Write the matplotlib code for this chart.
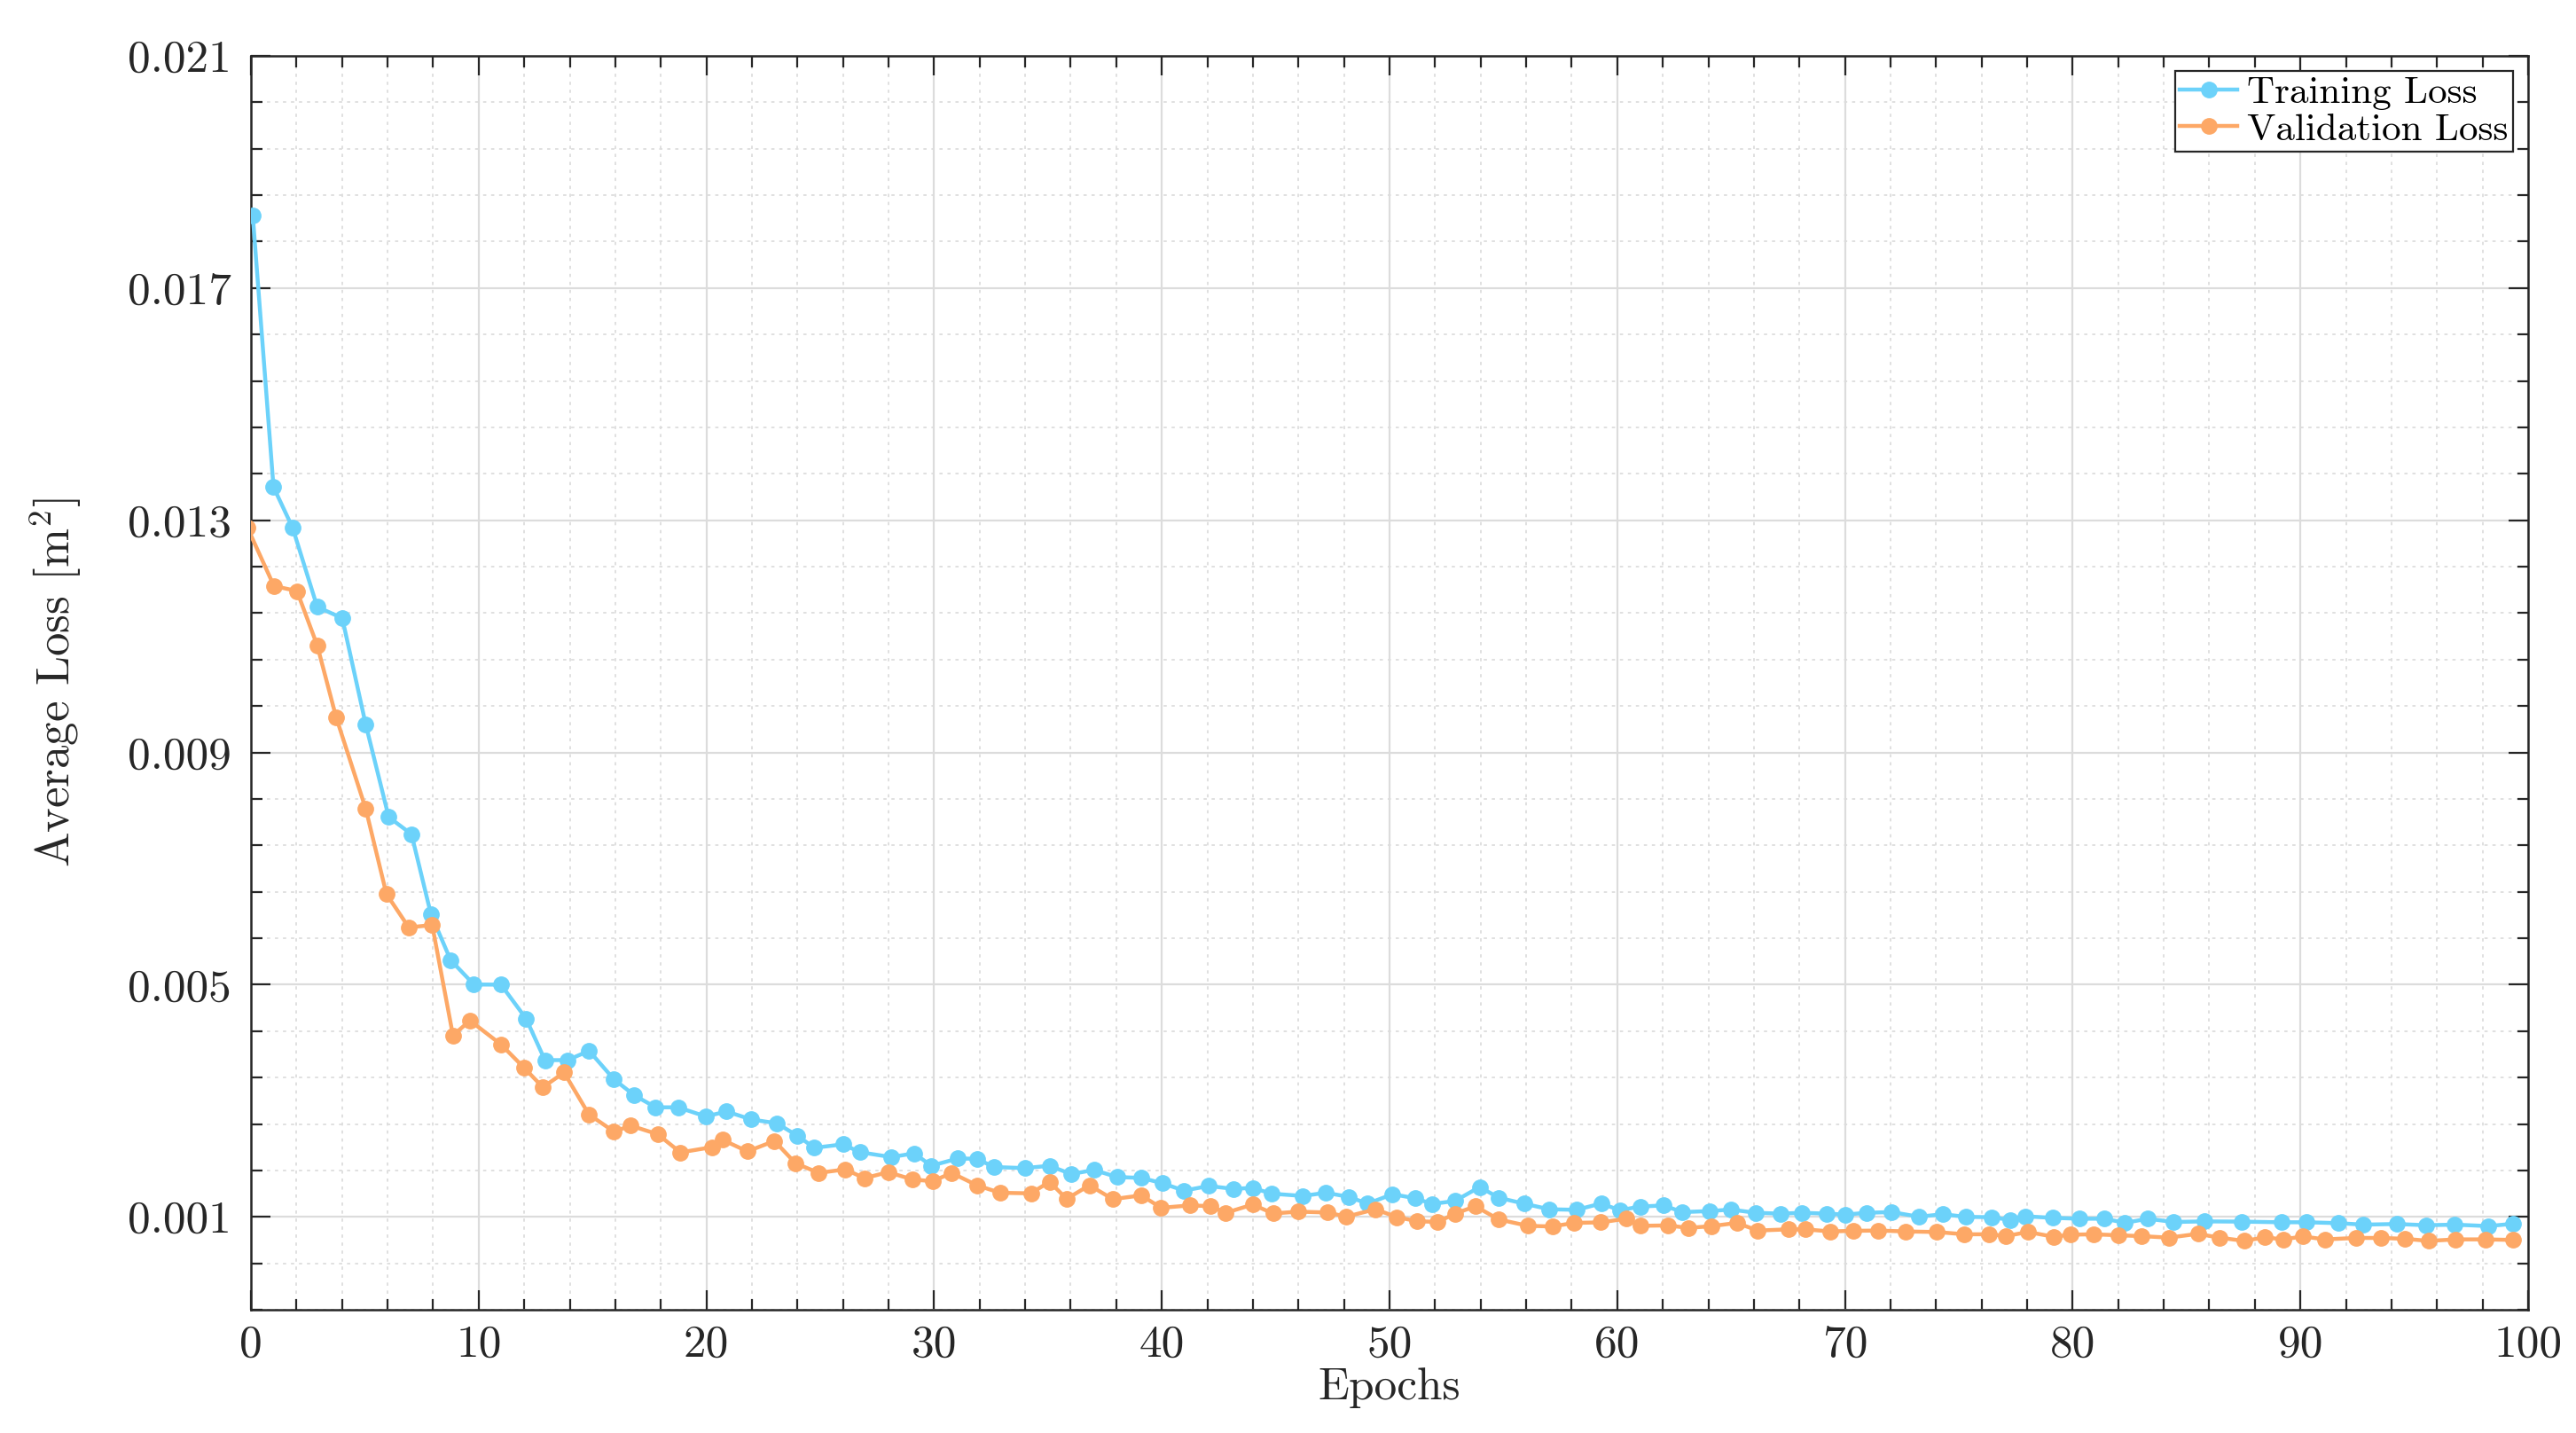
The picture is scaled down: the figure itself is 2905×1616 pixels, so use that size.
import matplotlib
matplotlib.use("Agg")
import matplotlib.pyplot as plt
from matplotlib.ticker import MultipleLocator, FixedLocator

plt.rcParams['font.family'] = 'cmr10'
plt.rcParams['mathtext.fontset'] = 'cm'
plt.rcParams['axes.unicode_minus'] = False

# training loss (x positions are not evenly spaced in the source)
train_x = [0.08, 0.99, 1.83, 2.91, 4.01, 5.04, 6.05, 7.05, 7.90, 8.77,
           9.79, 10.98, 12.08, 12.91, 13.90, 14.85, 15.94, 16.84, 17.77, 18.76,
           19.97, 20.89, 21.97, 23.09, 23.99, 24.74, 26.00, 26.75, 28.12, 29.13,
           29.87, 31.04, 31.88, 32.63, 33.98, 35.07, 36.02, 37.02, 38.03, 39.11,
           40.03, 40.97, 42.06, 43.15, 43.99, 44.81, 46.20, 47.20, 48.20, 49.04,
           50.13, 51.14, 51.87, 52.87, 53.96, 54.79, 55.90, 57.01, 58.21, 59.29,
           60.11, 61.01, 62.04, 62.86, 64.06, 64.99, 66.08, 67.18, 68.10, 69.20,
           70.03, 70.96, 72.04, 73.23, 74.30, 75.33, 76.44, 77.25, 77.91, 79.11,
           80.31, 81.40, 82.30, 83.30, 84.41, 85.80, 87.43, 89.16, 90.26, 91.65,
           92.76, 94.22, 95.52, 96.78, 98.25, 99.35]
train_loss = [0.018246, 0.013572, 0.012871, 0.011508, 0.011314, 0.009483, 0.007886, 0.007593, 0.006220, 0.005422,
              0.005003, 0.005000, 0.004416, 0.003700, 0.003700, 0.003860, 0.003370, 0.003093, 0.002887, 0.002887,
              0.002730, 0.002815, 0.002678, 0.002612, 0.002400, 0.002189, 0.002250, 0.002113, 0.002030, 0.002095,
              0.001880, 0.002005, 0.002001, 0.001858, 0.001840, 0.001880, 0.001737, 0.001808, 0.001686, 0.001671,
              0.001579, 0.001452, 0.001532, 0.001482, 0.001500, 0.001400, 0.001360, 0.001416, 0.001345, 0.001228,
              0.001390, 0.001320, 0.001223, 0.001273, 0.001515, 0.001330, 0.001228, 0.001131, 0.001121, 0.001230,
              0.001115, 0.001177, 0.001197, 0.001082, 0.001100, 0.001126, 0.001070, 0.001055, 0.001070, 0.001055,
              0.001040, 0.001070, 0.001083, 0.001003, 0.001045, 0.001000, 0.000994, 0.000948, 0.001010, 0.000983,
              0.000968, 0.000968, 0.000897, 0.000968, 0.000912, 0.000922, 0.000918, 0.000907, 0.000907, 0.000892,
              0.000866, 0.000877, 0.000856, 0.000866, 0.000841, 0.000881]

# validation loss
val_x = [-0.15, 1.01, 2.02, 2.91, 3.74, 5.04, 5.95, 6.93, 7.96, 8.87,
         9.62, 10.98, 11.98, 12.82, 13.75, 14.84, 15.94, 16.68, 17.86, 18.86,
         20.23, 20.71, 21.80, 22.99, 23.91, 24.93, 26.10, 26.94, 27.98, 29.05,
         29.94, 30.77, 31.88, 32.89, 34.25, 35.07, 35.82, 36.82, 37.85, 39.10,
         39.97, 41.23, 42.14, 42.81, 43.99, 44.89, 45.98, 47.28, 48.10, 49.38,
         50.33, 51.22, 52.12, 52.87, 53.77, 54.80, 56.08, 57.15, 58.11, 59.28,
         60.38, 61.01, 62.21, 63.12, 64.14, 65.25, 66.17, 67.51, 68.25, 69.37,
         70.37, 71.47, 72.66, 74.03, 75.24, 76.33, 77.08, 78.03, 79.16, 79.92,
         80.91, 82.01, 83.02, 84.23, 85.50, 86.43, 87.54, 88.44, 89.26, 90.11,
         91.07, 92.46, 93.54, 94.58, 95.64, 96.82, 98.14, 99.35]
val_loss = [0.012870, 0.011868, 0.011781, 0.010845, 0.009608, 0.008031, 0.006561, 0.005987, 0.006026, 0.004127,
            0.004381, 0.003970, 0.003574, 0.003232, 0.003487, 0.002765, 0.002469, 0.002571, 0.002424, 0.002110,
            0.002200, 0.002327, 0.002128, 0.002307, 0.001925, 0.001757, 0.001818, 0.001666, 0.001770, 0.001644,
            0.001614, 0.001757, 0.001544, 0.001415, 0.001405, 0.001605, 0.001309, 0.001544, 0.001305, 0.001370,
            0.001156, 0.001197, 0.001185, 0.001070, 0.001212, 0.001058, 0.001090, 0.001075, 0.001003, 0.001131,
            0.000994, 0.000925, 0.000912, 0.001055, 0.001182, 0.000955, 0.000845, 0.000835, 0.000896, 0.000905,
            0.000968, 0.000845, 0.000853, 0.000810, 0.000840, 0.000896, 0.000764, 0.000785, 0.000785, 0.000749,
            0.000760, 0.000764, 0.000749, 0.000739, 0.000700, 0.000700, 0.000670, 0.000739, 0.000658, 0.000693,
            0.000700, 0.000683, 0.000668, 0.000642, 0.000708, 0.000642, 0.000586, 0.000647, 0.000612, 0.000663,
            0.000612, 0.000637, 0.000637, 0.000622, 0.000586, 0.000612, 0.000612, 0.000602]

y_ticks = [0.001, 0.005, 0.009, 0.013, 0.017, 0.021]
x_ticks = [0, 10, 20, 30, 40, 50, 60, 70, 80, 90, 100]

fig = plt.figure(figsize=(29.05, 16.16), dpi=100)
ax = fig.add_axes([283 / 2905, 1 - 1477 / 1616, (2851 - 283) / 2905, (1477 - 63) / 1616])

ax.plot(train_x, train_loss, '-o', color='#6CD2FA', lw=3.2, ms=12.5, label='Training Loss', zorder=3)
ax.plot(val_x, val_loss, '-o', color='#FDA866', lw=3.2, ms=12.5, label='Validation Loss', zorder=3)

ax.set_xlim(0, 100)
ax.set_ylim(-0.0006, 0.021)
ax.set_xticks(x_ticks)
ax.set_xticklabels([str(v) for v in x_ticks])
ax.set_yticks(y_ticks)
ax.set_yticklabels([f'{v:.3f}' for v in y_ticks])
ax.xaxis.set_minor_locator(MultipleLocator(2))
ax.yaxis.set_minor_locator(FixedLocator([0.001 + 0.0008 * k for k in range(-2, 26)]))

ax.grid(which='major', color='#DCDCDC', lw=1.6, ls='-')
ax.grid(which='minor', color='#DDDDDD', lw=1.3, ls=(0, (2, 3)))
ax.set_axisbelow(True)

ax.tick_params(which='both', direction='in', top=True, right=True, colors='#262626',
               width=1.6, labelcolor='#262626', labelsize=37)
ax.tick_params(which='major', length=16)
ax.tick_params(which='minor', length=9)
ax.tick_params(axis='y', pad=16)
ax.tick_params(axis='x', pad=12)
for s in ax.spines.values():
    s.set_linewidth(1.8)
    s.set_color('#262626')

ax.set_xlabel('Epochs', fontsize=37, color='#262626', labelpad=2)
ax.set_ylabel(r'Average Loss [$\mathrm{m}^2$]', fontsize=38, color='#262626', labelpad=36)

leg = ax.legend(loc='upper right', fontsize=31, frameon=True, fancybox=False,
                edgecolor='#262626', framealpha=1, handlelength=1.5, handletextpad=0.25,
                labelspacing=0.08, borderpad=0.13, borderaxespad=0.4)
leg.get_frame().set_linewidth(1.6)

fig.savefig('out.png', dpi=100)
